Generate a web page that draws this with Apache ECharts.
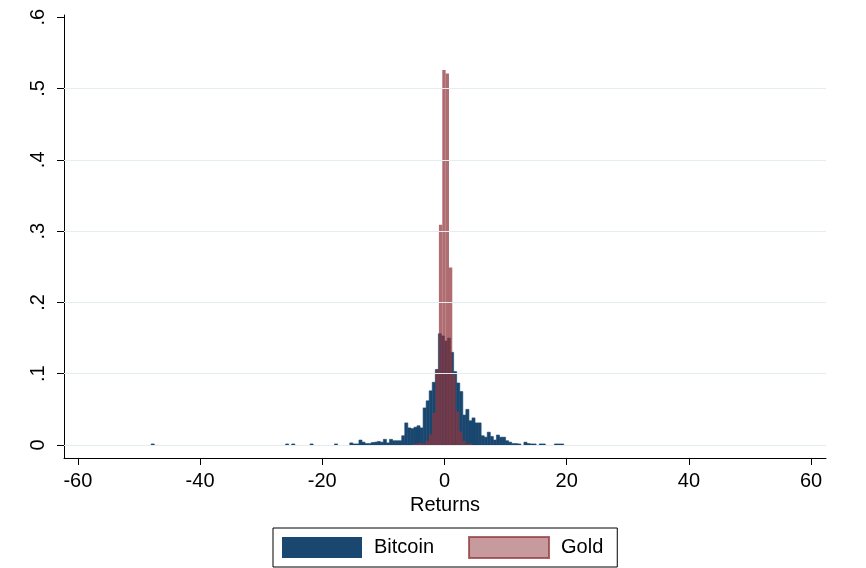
<!DOCTYPE html>
<html>
<head>
<meta charset="utf-8">
<script src="https://cdn.jsdelivr.net/npm/echarts@6.0.0/dist/echarts.min.js"></script>
<style>
html,body{margin:0;padding:0;background:#fff;}
#chart{width:866px;height:568px;}
</style>
</head>
<body>
<div id="chart"></div>
<script>
// Bitcoin histogram: left bin edges (width 0.5) and densities
const btcBinWidth = 0.5;
const btcEdges = [-48,-26,-25,-22,-18,-15.5,-15,-14.5,-14,-13.5,-13,-12.5,-12,-11.5,-11,-10.5,-10,-9.5,-9,-8.5,-8,-7.5,-7,-6.5,-6,-5.5,-5,-4.5,-4,-3.5,-3,-2.5,-2,-1.5,-1,-0.5,0,0.5,1,1.5,2,2.5,3,3.5,4,4.5,5,5.5,6,6.5,7,7.5,8,8.5,9,9.5,10,10.5,11,11.5,12,13,13.5,14,14.5,15.5,16,18,18.5,19];
const btcDensity = [0.0015,0.0015,0.0015,0.0015,0.0015,0.003,0.0015,0.0015,0.007,0.004,0.002,0.002,0.0035,0.004,0.005,0.004,0.008,0.003,0.008,0.006,0.006,0.006,0.013,0.031,0.024,0.023,0.025,0.027,0.024,0.052,0.062,0.076,0.088,0.106,0.156,0.153,0.146,0.150,0.130,0.103,0.087,0.075,0.042,0.050,0.034,0.038,0.031,0.031,0.013,0.011,0.018,0.012,0.007,0.014,0.011,0.011,0.006,0.004,0.002,0.002,0.0015,0.004,0.002,0.0015,0.0015,0.0015,0.0015,0.0015,0.0015,0.0015];

// Gold histogram: left bin edges (width 0.548) and densities
const goldBinWidth = 0.548;
const goldEdges = [-5.29,-4.74,-4.20,-3.65,-3.10,-2.55,-2.00,-1.46,-0.91,-0.36,0.19,0.73,1.28,1.83,2.38,2.93,3.47,4.02];
const goldDensity = [0.0015,0.002,0.003,0.002,0.006,0.015,0.045,0.105,0.309,0.526,0.521,0.249,0.100,0.047,0.019,0.006,0.002,0.002];

// Tick labels
const xTicks = [-60,-40,-20,0,20,40,60];
const yTicks = [0,0.1,0.2,0.3,0.4,0.5,0.6];
const yGridValues = [0,0.1,0.2,0.3,0.4,0.5];

const seriesNames = ['Bitcoin','Gold'];

function toData(edges, dens, w){
  return edges.map((e,i)=>[e, e + w, dens[i]]);
}

function makeRender(fill, stroke, lw){
  return function(params, api){
    const p0 = api.coord([api.value(0), api.value(2)]);
    const p1 = api.coord([api.value(1), 0]);
    return {
      type: 'rect',
      shape: {x: p0[0], y: p0[1], width: p1[0]-p0[0], height: p1[1]-p0[1]},
      style: {fill: fill, stroke: stroke, lineWidth: lw}
    };
  };
}

const chart = echarts.init(document.getElementById('chart'), null, {renderer:'canvas'});
const FONT = 'Liberation Sans, Arial, sans-serif';

chart.setOption({
  backgroundColor: '#ffffff',
  animation: false,
  grid: {left: 64, right: 40, top: 15, bottom: 110, containLabel: false},
  xAxis: {
    type: 'value',
    min: -62.27, max: 62.44,
    name: 'Returns',
    nameLocation: 'middle',
    nameGap: 25,
    nameTextStyle: {fontSize: 20, color: '#000', fontFamily: FONT},
    axisLine: {show: true, onZero: false, lineStyle: {color: '#000', width: 1}},
    axisTick: {show: true, length: 7, customValues: xTicks, lineStyle: {color: '#000'}},
    axisLabel: {customValues: xTicks, fontSize: 20, color: '#000', fontFamily: FONT, margin: 13,
      formatter: v => String(v)},
    splitLine: {show: false}
  },
  yAxis: {
    type: 'value',
    min: -0.0182, max: 0.6031,
    axisLine: {show: true, onZero: false, lineStyle: {color: '#000', width: 1}},
    axisTick: {show: true, length: 7, customValues: yTicks, lineStyle: {color: '#000'}},
    axisLabel: {customValues: yTicks, fontSize: 20, color: '#000', fontFamily: FONT, margin: 16, rotate: 90,
      formatter: v => (Math.abs(v) < 1e-9 ? '0' : v.toFixed(1).replace(/^0/, ''))},
    splitLine: {show: false}
  },
  legend: {
    data: seriesNames,
    left: 273, top: 528,
    itemWidth: 80, itemHeight: 21, itemGap: 34,
    padding: [8, 14, 8, 9],
    borderColor: '#000', borderWidth: 1,
    icon: 'rect',
    textStyle: {fontSize: 20, color: '#000', fontFamily: FONT, padding: [0,0,0,7]}
  },
  series: [
    {
      type: 'line', name: 'grid', data: [], silent: true, z: 1,
      markLine: {
        silent: true, symbol: ['none','none'], label: {show: false},
        lineStyle: {color: '#e4eef0', width: 1, type: 'solid'},
        data: yGridValues.map(v => ({yAxis: v}))
      }
    },
    {
      type: 'custom', name: 'Bitcoin', z: 2,
      itemStyle: {color: '#1a476f'},
      encode: {x: [0,1], y: 2},
      renderItem: makeRender('#1a476f', '#1a476f', 0.6),
      data: toData(btcEdges, btcDensity, btcBinWidth)
    },
    {
      type: 'custom', name: 'Gold', z: 3,
      itemStyle: {color: 'rgba(144,53,59,0.5)', borderColor: 'rgba(144,53,59,0.75)', borderWidth: 1.5},
      encode: {x: [0,1], y: 2},
      renderItem: makeRender('rgba(144,53,59,0.72)', null, 0),
      data: toData(goldEdges, goldDensity, goldBinWidth)
    }
  ]
});
</script>
</body>
</html>
